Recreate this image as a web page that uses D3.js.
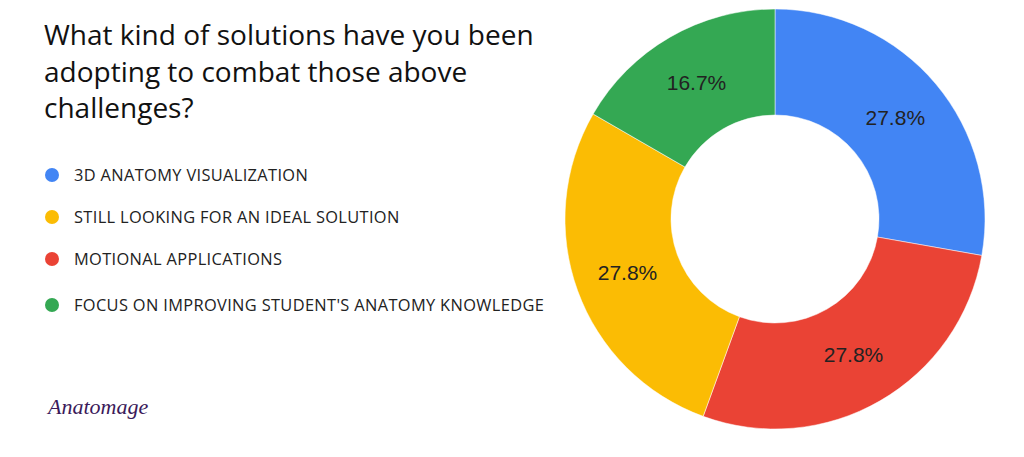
<!DOCTYPE html>
<html><head><meta charset="utf-8">
<script src="https://cdn.jsdelivr.net/npm/d3@7"></script>
<style>body{margin:0;background:#fff}svg{display:block}</style>
</head><body>
<svg id="c" width="1024" height="457"></svg>
<script>
const titleLines = ["What kind of solutions have you been", "adopting to combat those above", "challenges?"];
const categories = ["3D ANATOMY VISUALIZATION", "MOTIONAL APPLICATIONS", "STILL LOOKING FOR AN IDEAL SOLUTION", "FOCUS ON IMPROVING STUDENT'S ANATOMY KNOWLEDGE"];
const values = [5, 5, 5, 3];
const colors = ["#4285f4", "#ea4335", "#fbbc04", "#34a853"];
const legendOrder = [0, 2, 1, 3];

const svg = d3.select("#c");
const title = svg.append("text").attr("x", 44).attr("y", 45)
  .attr("font-family", "Open Sans").attr("font-size", 28).attr("fill", "#111");
titleLines.forEach((t, i) => title.append("tspan").attr("x", 44).attr("y", 45 + i * 36.5).text(t));

const legendY = [175, 217, 259, 305];
const lg = svg.append("g");
legendOrder.forEach((k, i) => {
  lg.append("circle").attr("cx", 52).attr("cy", legendY[i]).attr("r", 7).attr("fill", colors[k]);
  lg.append("text").attr("x", 74).attr("y", legendY[i]).attr("dy", "0.36em")
    .attr("font-family", "Open Sans").attr("font-size", 16.4).attr("letter-spacing", 0.35)
    .attr("fill", "#222").text(categories[k]);
});

svg.append("text").attr("x", 48).attr("y", 414).attr("font-family", "Liberation Serif")
  .attr("font-style", "italic").attr("font-size", 22).attr("fill", "#3b1a5a").text("Anatomage");

const cx = 775, cy = 219, R = 210, r = 104;
const pie = d3.pie().sort(null).value(d => d)(values);
const arc = d3.arc().innerRadius(r).outerRadius(R);
const total = d3.sum(values);
const g = svg.append("g").attr("transform", `translate(${cx},${cy})`);
g.selectAll("path").data(pie).join("path").attr("d", arc).attr("fill", (d, i) => colors[i])
  .attr("stroke", "#fff").attr("stroke-width", 0.5);
g.selectAll("text").data(pie).join("text")
  .attr("transform", d => `translate(${arc.centroid(d)})`)
  .attr("text-anchor", "middle").attr("dy", "0.35em")
  .attr("font-family", "Liberation Sans").attr("font-size", 21).attr("fill", "#222")
  .text(d => (d.value / total * 100).toFixed(1) + "%");
</script>
</body></html>
